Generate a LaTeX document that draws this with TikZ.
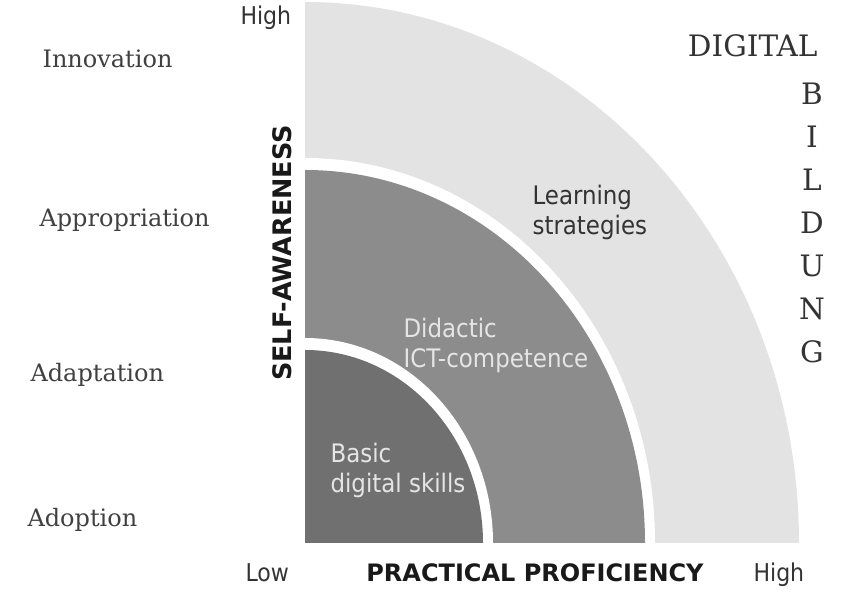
\documentclass[tikz,border=0pt]{standalone}
\usepackage{fontspec}
\setmainfont{DejaVu Serif}
\setsansfont{DejaVu Sans Condensed}
\newfontfamily\boldsans{DejaVu Sans}
\definecolor{lightband}{gray}{0.89}
\definecolor{midband}{gray}{0.55}
\definecolor{darkband}{gray}{0.44}

\begin{document}
\begin{tikzpicture}[x=1pt,y=1pt,
  level/.style={font=\fontsize{24}{28}\selectfont,text=black!75,anchor=base west},
  axis/.style={font=\sffamily\fontsize{24.5}{28}\selectfont,text=black!80,anchor=base west},
  axistitle/.style={font=\boldsans\bfseries\fontsize{24}{28}\selectfont,text=black!90},
  area/.style={font=\sffamily\fontsize{25.5}{30.5}\selectfont,align=left,anchor=base west},
  word/.style={font=\fontsize{29.5}{34}\selectfont,text=black!80}]
\useasboundingbox (0,0) rectangle (848,609);
% quarter bands
\fill[lightband] (305,66) -- (799,66) arc[start angle=0,end angle=90,x radius=494,y radius=541] -- cycle;
\fill[white] (305,66) -- (655,66) arc[start angle=0,end angle=90,x radius=350,y radius=385] -- cycle;
\fill[midband] (305,66) -- (645,66) arc[start angle=0,end angle=90,x radius=340,y radius=373] -- cycle;
\fill[white] (305,66) -- (493,66) arc[start angle=0,end angle=90,x radius=188,y radius=205] -- cycle;
\fill[darkband] (305,66) -- (483,66) arc[start angle=0,end angle=90,x radius=178,y radius=193] -- cycle;

\node[level] (innovation) at (39,541) {Innovation};
\node[level] (appropriation) at (36,382) {Appropriation};
\node[level] (adaptation) at (27,227) {Adaptation};
\node[level] (adoption) at (24,82) {Adoption};

\node[axis] (hightop) at (237,584) {High};
\node[axis] (low) at (242,27) {Low};
\node[axis] (highright) at (750,27) {High};
\node[axistitle,anchor=base] (practical) at (535,27) {PRACTICAL PROFICIENCY};
\node[axistitle,rotate=90,font=\boldsans\bfseries\fontsize{25.5}{28}\selectfont] (selfaware) at (282,356) {SELF-AWARENESS};

\node[area,text=black!80] (learning) at (529,374) {Learning\\strategies};
\node[area,text=white!90!black] (didactic) at (400,241) {Didactic\\ICT-competence};
\node[area,text=white!90!black] (basic) at (327,116) {Basic\\digital skills};

\node[word,anchor=base east] (digital) at (821,552) {DIGITAL};
\foreach \ch [count=\i from 0] in {B,I,L,D,U,N,G}
  \node[word,anchor=base] (bildung\i) at (812,504-43*\i) {\ch};
\end{tikzpicture}
\end{document}
